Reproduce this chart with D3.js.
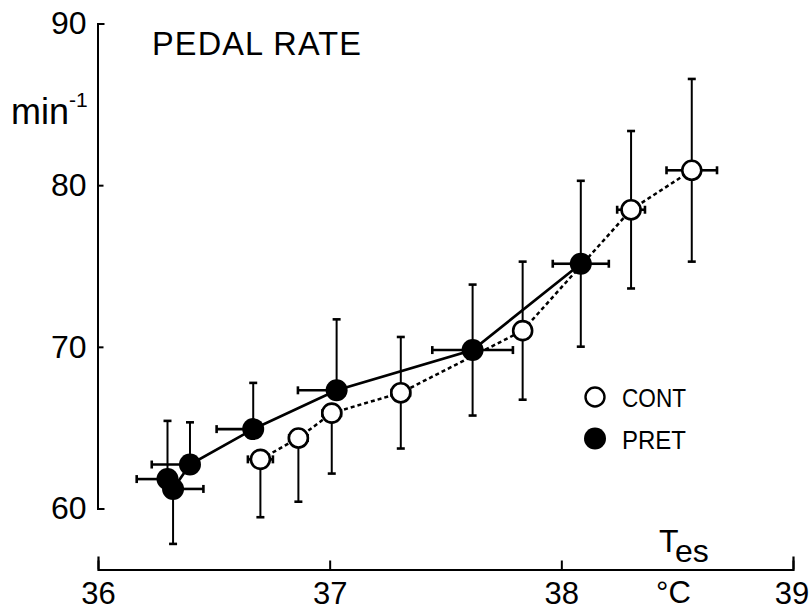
<!DOCTYPE html>
<html>
<head>
<meta charset="utf-8">
<script src="https://cdn.jsdelivr.net/npm/d3@7"></script>
<style>
  html, body { margin: 0; padding: 0; background: #fff; }
  svg { display: block; }
  text { font-family: "Liberation Sans", Arial, Helvetica, sans-serif; fill: #000; }
</style>
</head>
<body>
<svg id="chart" width="810" height="612"></svg>
<script>
// ---- data ----
const xTicks = [36, 37, 38, 39];
const yTicks = [60, 70, 80, 90];

// PRET (filled circles, solid line)
const pretT   = [36.30, 36.324, 36.397, 36.670, 37.030, 37.617, 38.084];
const pretV   = [61.82, 61.21, 62.72, 64.91, 67.31, 69.80, 75.14];
const pretSdV = [3.60, 3.40, 2.61, 2.86, 4.39, 4.05, 5.13];
const pretSdT = [0.133, 0.131, 0.165, 0.158, 0.167, 0.174, 0.121];
const pretBarV = ["up", "down", "up", "up", "up", "both", "both"];
const pretBarH = ["left", "right", "left", "left", "left", "both", "both"];

// CONT (open circles, dotted line)
const contT   = [36.701, 36.865, 37.009, 37.307, 37.833, 38.301, 38.563];
const contV   = [63.04, 64.36, 65.90, 67.16, 71.00, 78.48, 80.92];
const contSdV = [3.58, 3.94, 3.74, 3.45, 4.27, 4.87, 5.65];
const contSdT = [0.054, 0.04, 0.04, 0.04, 0.03, 0.06, 0.109];
const contBarV = ["down", "down", "down", "both", "both", "both", "both"];
const contBarH = ["both", "both", "both", "both", "both", "both", "both"];

const legendLabels = ["CONT", "PRET"];

// ---- build ----
const svg = d3.select("#chart");
const x = d3.scaleLinear().domain([36, 39]).range([98, 793]);
const y = d3.scaleLinear().domain([60, 90]).range([508.5, 23.5]);
const xAxisY = 569.5;
const yAxisX = 97.5;

const pret = pretT.map((t, i) => ({t, v: pretV[i], sv: pretSdV[i], st: pretSdT[i], bv: pretBarV[i], bh: pretBarH[i]}));
const cont = contT.map((t, i) => ({t, v: contV[i], sv: contSdV[i], st: contSdT[i], bv: contBarV[i], bh: contBarH[i]}));

// axes
const xAxis = d3.axisBottom(x).tickValues(xTicks).tickSizeInner(-9).tickSizeOuter(-13).tickPadding(12)
  .tickFormat(d3.format("d"));
const gx = svg.append("g").attr("transform", `translate(0,${xAxisY})`).call(xAxis);
gx.select(".domain").attr("stroke-width", 2.2);
gx.selectAll(".tick line").attr("stroke-width", 2);
gx.selectAll(".tick text").attr("font-size", 31).attr("font-family", "Liberation Sans, Arial, sans-serif")
  .attr("dx", d => d === 39 ? -1.5 : 0);

const yAxis = d3.axisLeft(y).tickValues(yTicks).tickSizeInner(-6).tickSizeOuter(-7).tickPadding(11)
  .tickFormat(d3.format("d"));
const gy = svg.append("g").attr("transform", `translate(${yAxisX},0)`).call(yAxis);
gy.select(".domain").attr("stroke-width", 2);
gy.selectAll(".tick line").attr("stroke-width", 2);
gy.selectAll(".tick text").attr("font-size", 32).attr("font-family", "Liberation Sans, Arial, sans-serif");

// axis titles
svg.append("text").attr("x", 152).attr("y", 54.5).attr("font-size", 32.5)
  .attr("textLength", 209).attr("lengthAdjust", "spacing").text("PEDAL RATE");

const minT = svg.append("text").attr("x", 11).attr("y", 124).attr("font-size", 36);
minT.append("tspan").text("min");
minT.append("tspan").attr("font-size", 21).attr("dy", -17).text("-1");

const tesT = svg.append("text").attr("x", 659).attr("y", 552).attr("font-size", 32);
tesT.append("tspan").text("T");
tesT.append("tspan").attr("dx", 0).attr("dy", 10).attr("font-size", 32).text("es");

svg.append("text").attr("x", 656).attr("y", 603).attr("font-size", 31).text("°C");

// error bars
function drawBars(data, cls) {
  const g = svg.append("g").attr("class", cls).attr("stroke", "#000").attr("fill", "none");
  const cap = 4;
  data.forEach(d => {
    const cx = x(d.t), cy = y(d.v);
    const top = y(d.v + d.sv), bot = y(d.v - d.sv);
    const left = x(d.t - d.st), right = x(d.t + d.st);
    if (d.bv === "up" || d.bv === "both") {
      g.append("line").attr("x1", cx).attr("x2", cx).attr("y1", cy).attr("y2", top).attr("stroke-width", 2);
      g.append("line").attr("x1", cx - cap).attr("x2", cx + cap).attr("y1", top).attr("y2", top).attr("stroke-width", 2.6);
    }
    if (d.bv === "down" || d.bv === "both") {
      g.append("line").attr("x1", cx).attr("x2", cx).attr("y1", cy).attr("y2", bot).attr("stroke-width", 2);
      g.append("line").attr("x1", cx - cap).attr("x2", cx + cap).attr("y1", bot).attr("y2", bot).attr("stroke-width", 2.6);
    }
    if (d.bh === "left" || d.bh === "both") {
      g.append("line").attr("x1", cx).attr("x2", left).attr("y1", cy).attr("y2", cy).attr("stroke-width", 2.6);
      g.append("line").attr("x1", left).attr("x2", left).attr("y1", cy - cap).attr("y2", cy + cap).attr("stroke-width", 2.6);
    }
    if (d.bh === "right" || d.bh === "both") {
      g.append("line").attr("x1", cx).attr("x2", right).attr("y1", cy).attr("y2", cy).attr("stroke-width", 2.6);
      g.append("line").attr("x1", right).attr("x2", right).attr("y1", cy - cap).attr("y2", cy + cap).attr("stroke-width", 2.6);
    }
  });
}
drawBars(cont, "cont-bars");
drawBars(pret, "pret-bars");

// lines
const line = d3.line().x(d => x(d.t)).y(d => y(d.v));
svg.append("path").datum(cont).attr("d", line).attr("fill", "none").attr("stroke", "#000")
  .attr("stroke-width", 2.5).attr("stroke-dasharray", "4,3");
svg.append("path").datum(pret).attr("d", line).attr("fill", "none").attr("stroke", "#000")
  .attr("stroke-width", 2.7);

// markers
svg.append("g").selectAll("circle").data(cont).join("circle")
  .attr("cx", d => x(d.t)).attr("cy", d => y(d.v)).attr("r", 9.5)
  .attr("fill", "#fff").attr("stroke", "#000").attr("stroke-width", 2.6);
svg.append("g").selectAll("circle").data(pret).join("circle")
  .attr("cx", d => x(d.t)).attr("cy", d => y(d.v)).attr("r", 11)
  .attr("fill", "#000");

// legend
const lg = svg.append("g");
lg.append("circle").attr("cx", 595).attr("cy", 397).attr("r", 9.5)
  .attr("fill", "#fff").attr("stroke", "#000").attr("stroke-width", 2.4);
lg.append("circle").attr("cx", 595).attr("cy", 438.5).attr("r", 11).attr("fill", "#000");
lg.append("text").attr("x", 622).attr("y", 407).attr("font-size", 26)
  .attr("textLength", 64).attr("lengthAdjust", "spacingAndGlyphs").text(legendLabels[0]);
lg.append("text").attr("x", 622).attr("y", 448.5).attr("font-size", 26)
  .attr("textLength", 64).attr("lengthAdjust", "spacingAndGlyphs").text(legendLabels[1]);
</script>
</body>
</html>
